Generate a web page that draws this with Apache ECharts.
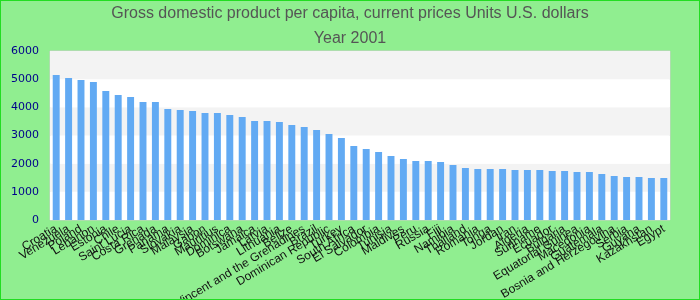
<!DOCTYPE html>
<html><head><meta charset="utf-8">
<script src="https://cdn.jsdelivr.net/npm/echarts@6/dist/echarts.min.js"></script>
<style>html,body{margin:0;padding:0;}#c{width:700px;height:300px;}</style>
</head><body><div id="c"></div>
<script>
var categories = ["Croatia","Venezuela","Poland","Lebanon","Estonia","Chile","Saint Lucia","Costa Rica","Grenada","Panama","Slovakia","Malaysia","Gabon","Mauritius","Dominica","Botswana","Jamaica","Latvia","Lithuania","Belize","Saint Vincent and the Grenadines","Brazil","Dominican Republic","Turkey","South Africa","El Salvador","Colombia","Tunisia","Maldives","Peru","Russia","Fiji","Namibia","Thailand","Romania","Tonga","Jordan","Iran","Algeria","Suriname","Ecuador","Bulgaria","Equatorial Guinea","Macedonia","Guatemala","Bosnia and Herzegovina","Serbia","Guyana","Kazakhstan","Egypt"];
var values = [5148,5041,4970,4899,4580,4437,4366,4189,4189,3941,3905,3870,3799,3799,3728,3657,3515,3515,3480,3373,3302,3195,3053,2911,2627,2521,2414,2272,2166,2095,2095,2059,1952,1846,1810,1810,1810,1775,1775,1775,1740,1740,1704,1704,1633,1562,1527,1527,1491,1491];
var titleLines = ["Gross domestic product per capita, current prices Units U.S. dollars","Year 2001"];
var yMin = 0, yMax = 6000, yInterval = 1000;

var chart = echarts.init(document.getElementById('c'));
chart.setOption({
  backgroundColor: '#90ee90',
  animation: false,
  title: {
    text: titleLines.join('\n'),
    left: 'center', top: 1, padding: 0,
    textStyle: {fontFamily: 'Liberation Sans, Arial, sans-serif', fontSize: 16, fontWeight: 'normal', color: '#555', lineHeight: 25}
  },
  grid: {left: 50, right: 30, top: 51, bottom: 80, containLabel: false, outerBoundsMode: 'none', show: true, backgroundColor: '#fff', borderColor: '#ccc', borderWidth: 1},
  xAxis: {
    type: 'category', data: categories,
    axisLine: {show: false}, axisTick: {show: false},
    axisLabel: {interval: 0, rotate: 31, fontSize: 12, color: '#111', fontFamily: 'Liberation Sans, Arial, sans-serif', margin: 8, hideOverlap: false}
  },
  yAxis: {
    type: 'value', min: yMin, max: yMax, interval: yInterval,
    axisLine: {show: false}, axisTick: {show: false},
    splitLine: {show: false},
    splitArea: {show: true, areaStyle: {color: ['#ffffff', '#f3f3f3']}},
    axisLabel: {fontSize: 11, color: '#00008b', fontFamily: 'DejaVu Sans, sans-serif', margin: 11, formatter: function (v) { return String(v); }}
  },
  series: [{
    type: 'bar', data: values, barCategoryGap: '44%',
    itemStyle: {color: '#62aaf3'}
  }]
});
</script>
<div style="position:absolute;left:0;top:0;width:698px;height:298px;border:1px solid #22dd22;pointer-events:none;"></div>
</body></html>
